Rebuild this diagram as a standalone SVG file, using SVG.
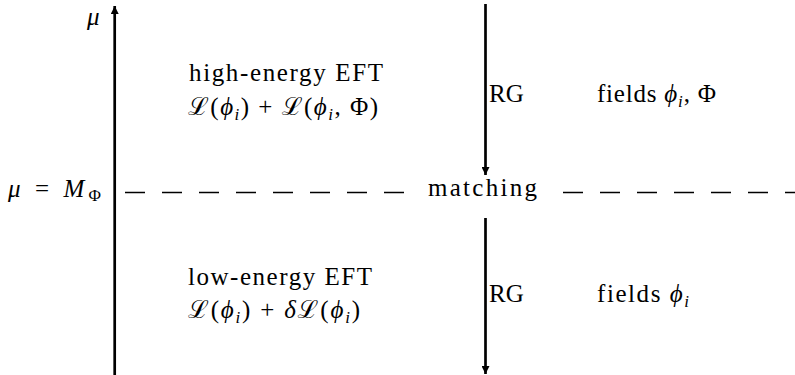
<svg xmlns="http://www.w3.org/2000/svg" width="795" height="375" viewBox="0 0 795 375">
<style>
text{font-family:"Liberation Serif","DejaVu Serif","Noto Serif",Tinos,"Times New Roman",Times,serif;font-size:25px;fill:#000}
.m{font-style:italic}
.sub{font-size:17px;font-style:italic}
.up{font-style:normal}
.ax{stroke:#000;stroke-width:2.7;fill:none}
.dash{stroke:#000;stroke-width:1.6;stroke-dasharray:20 17;fill:none}
</style>
<defs>
<marker id="ah" viewBox="0 0 10 10" refX="10" refY="5" markerWidth="8" markerHeight="8" markerUnits="userSpaceOnUse" orient="auto">
<path d="M0,0 L10,5 L0,10 z" fill="#000"/>
</marker>
</defs>
<rect width="795" height="375" fill="#fff"/>
<g id="connectors">
<line class="ax" x1="114.7" y1="375" x2="114.7" y2="6" marker-end="url(#ah)"/>
<line class="ax" x1="485.5" y1="4" x2="485.5" y2="175" marker-end="url(#ah)"/>
<line class="ax" x1="485.5" y1="218" x2="485.5" y2="374" marker-end="url(#ah)"/>
<line class="dash" x1="125" y1="192.5" x2="406" y2="192.5"/>
<line class="dash" x1="563" y1="192.5" x2="795" y2="192.5"/>
</g>
<g id="mu-label"><text x="87" y="25" class="m" font-size="26">μ</text></g>
<g id="scale-label"><text x="8" y="197" font-size="26" textLength="93" lengthAdjust="spacing"><tspan class="m">μ</tspan> = <tspan class="m">M</tspan><tspan class="sub up" dy="4">Φ</tspan></text></g>
<g id="matching"><text x="428" y="196" textLength="109" lengthAdjust="spacing">matching</text></g>
<g id="high-energy">
<text x="189" y="81" textLength="194" lengthAdjust="spacing">high-energy EFT</text>
<text x="188" y="115" textLength="190" lengthAdjust="spacing">ℒ(<tspan class="m">ϕ</tspan><tspan class="sub" dy="5">i</tspan><tspan dy="-5">) + ℒ(</tspan><tspan class="m">ϕ</tspan><tspan class="sub" dy="5">i</tspan><tspan dy="-5">, Φ)</tspan></text>
</g>
<g id="low-energy">
<text x="188" y="285" textLength="184" lengthAdjust="spacing">low-energy EFT</text>
<text x="188" y="318" textLength="172" lengthAdjust="spacing">ℒ(<tspan class="m">ϕ</tspan><tspan class="sub" dy="5">i</tspan><tspan dy="-5">) + </tspan><tspan class="m">δ</tspan>ℒ(<tspan class="m">ϕ</tspan><tspan class="sub" dy="5">i</tspan><tspan dy="-5">)</tspan></text>
</g>
<g id="rg-upper"><text x="489" y="102">RG</text></g>
<g id="fields-upper"><text x="597" y="102" textLength="119" lengthAdjust="spacing">fields <tspan class="m">ϕ</tspan><tspan class="sub" dy="5">i</tspan><tspan dy="-5">, Φ</tspan></text></g>
<g id="rg-lower"><text x="489" y="302">RG</text></g>
<g id="fields-lower"><text x="597" y="302" textLength="92" lengthAdjust="spacing">fields <tspan class="m">ϕ</tspan><tspan class="sub" dy="5">i</tspan></text></g>
</svg>
